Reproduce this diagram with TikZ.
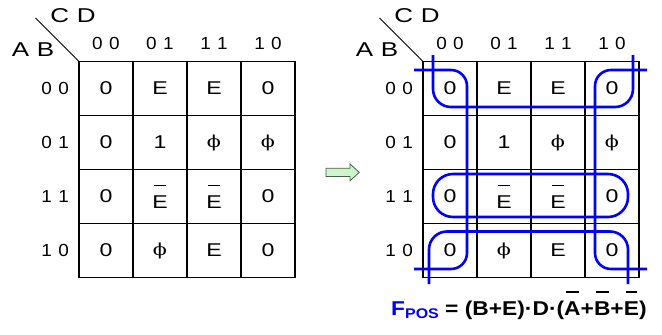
\documentclass[tikz,border=0pt]{standalone}
\usepackage{fontspec}
\usepackage{graphicx}
\setmainfont{Liberation Sans}
\newfontfamily\phifont{DejaVu Serif}
\newsavebox\ovbox
% bar over a letter: thickness, gap, inset, text
\newcommand\ovbar[4]{%
  \sbox\ovbox{#4}%
  \vbox{\hbox to \wd\ovbox{\hskip #3\leaders\hrule height #1\hfill\hskip #3}\kern #2\copy\ovbox}}
\newcommand\Ebar{\ovbar{1.2pt}{3.5pt}{1.6pt}{E}}
\newcommand\phiv{{\phifont\fontsize{16.5}{16.5}\selectfont ϕ}}
\newcommand\wide[2][1.25]{\scalebox{#1}[1]{#2}}
\newcommand\gap{\hspace{6pt}}

\tikzset{
  gridline/.style={line width=1.3pt, line cap=rect},
  celltext/.style={inner sep=0pt, font=\fontsize{18.5}{18.5}\selectfont},
  numlabel/.style={inner sep=0pt, font=\fontsize{17.5}{17.5}\selectfont},
  varlabel/.style={inner sep=0pt, font=\fontsize{20}{20}\selectfont},
  loop/.style={draw=blue, line width=2.6pt, rounded corners=16pt},
}

% one Karnaugh map with its labels; #1 = left edge, #2 = name prefix
\newcommand\kmap[2]{%
  \draw[gridline] (#1,61.5) rectangle ++(216,216);
  \foreach \i in {1,2,3} {
    \draw[gridline] (#1+54*\i,61.5) -- ++(0,216);
    \draw[gridline] (#1,61.5+54*\i) -- ++(216,0);
  }
  \coordinate (#2-corner) at (#1,61.5);
  \coordinate (#2-diag) at (#1-43.5,18);
  \draw[line width=1pt] (#2-diag) -- (#2-corner);
  \node[varlabel] (#2-cd) at (#1-6,16) {\wide[1.3]{C\gap D}};
  \node[varlabel] (#2-ab) at (#1-46,50) {\wide[1.3]{A\gap B}};
  \foreach \t [count=\k from 0] in {0\gap0,0\gap1,1\gap1,1\gap0} {
    \node[numlabel] (#2-col-\k) at (#1+27+54*\k,43) {\wide[1.08]{\t}};
    \node[numlabel, anchor=east] (#2-row-\k) at (#1-10,88.5+54*\k) {\wide[1.08]{\t}};
  }
  \foreach \v [count=\k from 0] in {0,E,E,0, 0,1,\phiv,\phiv, 0,\Ebar,\Ebar,0, 0,\phiv,E,0} {
    \pgfmathtruncatemacro\r{int(\k/4)}
    \pgfmathtruncatemacro\c{mod(\k,4)}
    \node[celltext] (#2-\r-\c) at (#1+27+54*\c,88.5+54*\r) {\wide[1.25]{\v}};
  }
}

\begin{document}
\begin{tikzpicture}[x=1pt,y=-1pt]
  \useasboundingbox (0,0) rectangle (662,335);

  \kmap{79}{L}
  \kmap{423}{R}

  % block arrow between the two maps
  \draw[line width=0.8pt, draw={rgb,255:red,70;green,95;blue,70},
        fill={rgb,255:red,204;green,245;blue,204}, line join=miter]
    (326,168.3) -- (350,168.3) -- (350,164) -- (359.3,172.4) -- (350,180.8)
    -- (350,176.5) -- (326,176.5) -- cycle;

  % groups of zeros on the right map
  \draw[loop] (414,70) -- (467,70) -- (467,269) -- (414,269);
  \draw[loop] (647,70) -- (595,70) -- (595,269) -- (647,269);
  \draw[loop, rounded corners=18pt] (433,55) -- (433,107) -- (633,107) -- (633,55);
  \draw[loop, rounded corners=18pt] (429,284) -- (429,231.5) -- (628,231.5) -- (628,284);
  \draw[loop, rounded corners=20pt] (433,174) rectangle (628,217);

  % resulting expression
  \node[anchor=base west, inner sep=0pt, font=\bfseries\fontsize{20}{20}\selectfont] (fpos) at (391,315)
    {\wide[1.14]{\textcolor{blue}{F\raisebox{-3.5pt}{\fontsize{14}{14}\selectfont POS}} = (B+E)·D·(\ovbar{2pt}{2.2pt}{1.6pt}{A}+\ovbar{2pt}{2.2pt}{1.6pt}{B}+\ovbar{2pt}{2.2pt}{1.6pt}{E})}};
\end{tikzpicture}
\end{document}
